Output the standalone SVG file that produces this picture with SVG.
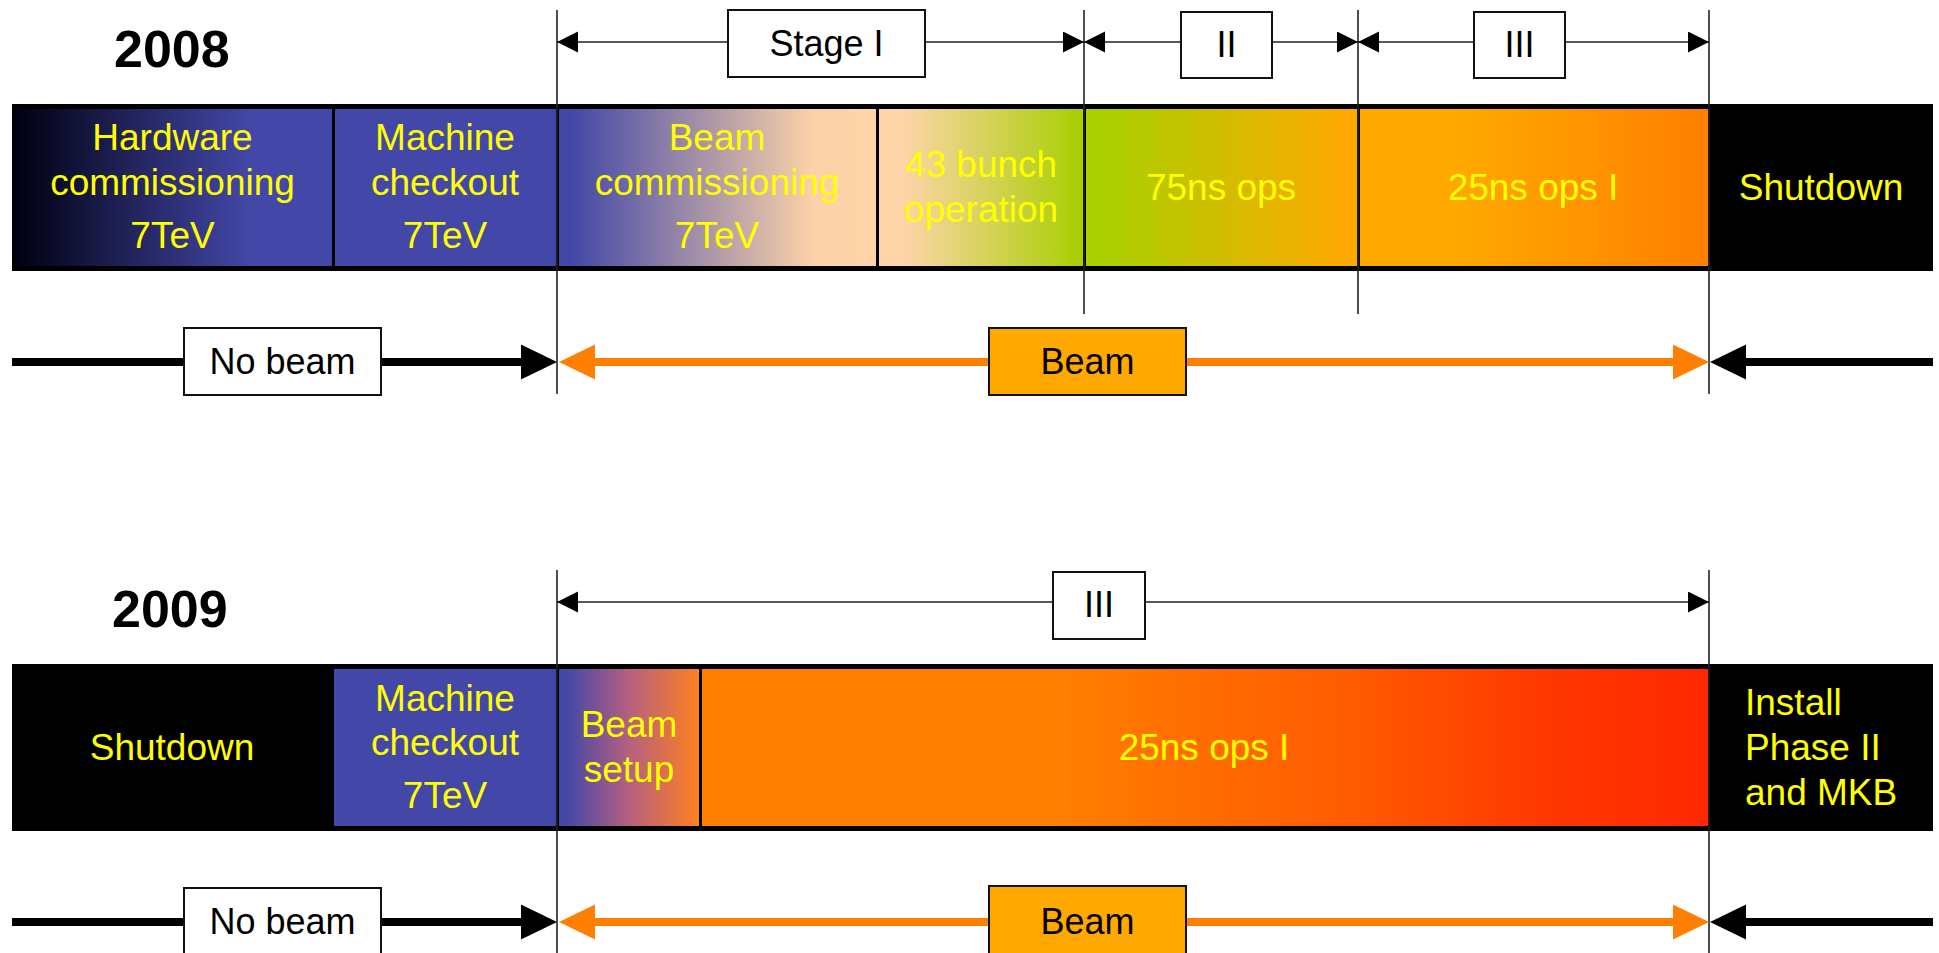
<svg xmlns="http://www.w3.org/2000/svg" width="1939" height="953" viewBox="0 0 1939 953">
<style>
text{font-family:"Liberation Sans",Arial,sans-serif}
.y{fill:#FFFF00;font-size:37px;text-anchor:middle}
.yl{fill:#FFFF00;font-size:37px}
.lb{fill:#000;font-size:36px;text-anchor:middle}
.yr{font-size:52px;font-weight:bold;fill:#000}
.box{fill:#fff;stroke:#111;stroke-width:2}
.bbox{fill:#FFA800;stroke:#111;stroke-width:2}
.vl{stroke:#222;stroke-width:1.6;fill:none}
.thin{stroke:#222;stroke-width:1.6;fill:none}
.blk{stroke:#000;stroke-width:8;fill:none}
.org{stroke:#FF7F00;stroke-width:8;fill:none}
</style>
<defs>
<marker id="ta" markerUnits="userSpaceOnUse" markerWidth="22" markerHeight="22" refX="21" refY="10.5" orient="auto-start-reverse" viewBox="0 0 22 22"><path d="M0,0 L21,10.5 L0,21 Z" fill="#000"/></marker>
<marker id="bk" markerUnits="userSpaceOnUse" markerWidth="37" markerHeight="36" refX="1" refY="17.5" orient="auto-start-reverse" viewBox="0 0 37 36"><path d="M0,0 L36,17.5 L0,35 Z" fill="#000"/></marker>
<marker id="or" markerUnits="userSpaceOnUse" markerWidth="37" markerHeight="36" refX="1" refY="17.5" orient="auto-start-reverse" viewBox="0 0 37 36"><path d="M0,0 L36,17.5 L0,35 Z" fill="#FF7F00"/></marker>
<linearGradient id="gHW" x1="0" x2="1" y1="0" y2="0"><stop offset="0" stop-color="#000010"/><stop offset="0.74" stop-color="#4347A7"/><stop offset="1" stop-color="#4347A7"/></linearGradient>
<linearGradient id="gBC" x1="0" x2="1" y1="0" y2="0"><stop offset="0.04" stop-color="#4347A7"/><stop offset="0.8" stop-color="#FBD2A8"/><stop offset="1" stop-color="#FDD5A8"/></linearGradient>
<linearGradient id="g43" x1="0" x2="1" y1="0" y2="0"><stop offset="0.12" stop-color="#FDD5A8"/><stop offset="1" stop-color="#A8CF00"/></linearGradient>
<linearGradient id="g75" x1="0" x2="1" y1="0" y2="0"><stop offset="0.08" stop-color="#AAD000"/><stop offset="0.97" stop-color="#FFA800"/></linearGradient>
<linearGradient id="g25a" x1="0" x2="1" y1="0" y2="0"><stop offset="0.3" stop-color="#FFA800"/><stop offset="1" stop-color="#FF7F00"/></linearGradient>
<linearGradient id="gBS" x1="0" x2="1" y1="0" y2="0"><stop offset="0.05" stop-color="#4347A7"/><stop offset="0.5" stop-color="#B5607F"/><stop offset="1" stop-color="#FF8020"/></linearGradient>
<linearGradient id="g25b" x1="0" x2="1" y1="0" y2="0"><stop offset="0.35" stop-color="#FF7F00"/><stop offset="0.65" stop-color="#FF5A00"/><stop offset="0.85" stop-color="#FF3600"/><stop offset="1" stop-color="#FF2800"/></linearGradient>
</defs>

<rect x="0" y="0" width="1939" height="953" fill="#fff"/>

<!-- 2008 -->
<g id="year2008"><text class="yr" x="114" y="67">2008</text></g>
<g id="bar2008">
<rect x="12" y="104" width="1921" height="167" fill="#000"/>
</g>
<g id="hw2008"><rect x="14" y="109" width="318" height="157" fill="url(#gHW)"/>
<text class="y" x="172.5" y="150">Hardware</text><text class="y" x="172.5" y="195">commissioning</text><text class="y" x="172.5" y="248">7TeV</text></g>
<g id="mc2008"><rect x="335" y="109" width="221" height="157" fill="#4347A7"/>
<text class="y" x="445" y="150">Machine</text><text class="y" x="445" y="195">checkout</text><text class="y" x="445" y="248">7TeV</text></g>
<g id="bc2008"><rect x="559" y="109" width="317" height="157" fill="url(#gBC)"/>
<text class="y" x="717" y="150">Beam</text><text class="y" x="717" y="195">commissioning</text><text class="y" x="717" y="248">7TeV</text></g>
<g id="b43"><rect x="879" y="109" width="204" height="157" fill="url(#g43)"/>
<text class="y" x="981" y="177">43 bunch</text><text class="y" x="981" y="222">operation</text></g>
<g id="o75"><rect x="1086" y="109" width="271" height="157" fill="url(#g75)"/>
<text class="y" x="1221" y="200">75ns ops</text></g>
<g id="o25a"><rect x="1360" y="109" width="348" height="157" fill="url(#g25a)"/>
<text class="y" x="1533" y="200">25ns ops I</text></g>
<g id="sd2008"><text class="y" x="1821" y="200">Shutdown</text></g>

<!-- 2009 -->
<g id="year2009"><text class="yr" x="112" y="627">2009</text></g>
<g id="bar2009"><rect x="12" y="664" width="1921" height="167" fill="#000"/></g>
<g id="sd2009a"><text class="y" x="172" y="760">Shutdown</text></g>
<g id="mc2009"><rect x="334" y="669" width="222" height="157" fill="#4347A7"/>
<text class="y" x="445" y="711">Machine</text><text class="y" x="445" y="755">checkout</text><text class="y" x="445" y="808">7TeV</text></g>
<g id="bs2009"><rect x="559" y="669" width="140" height="157" fill="url(#gBS)"/>
<text class="y" x="629" y="737">Beam</text><text class="y" x="629" y="782">setup</text></g>
<g id="o25b"><rect x="702" y="669" width="1006" height="157" fill="url(#g25b)"/>
<text class="y" x="1204" y="760">25ns ops I</text></g>
<g id="inst2009"><text class="yl" x="1745" y="715">Install</text><text class="yl" x="1745" y="760">Phase II</text><text class="yl" x="1745" y="805">and MKB</text></g>

<!-- connectors -->
<g id="connectors">
<line class="vl" x1="557" y1="10" x2="557" y2="394"/>
<line class="vl" x1="1084" y1="10" x2="1084" y2="314"/>
<line class="vl" x1="1358" y1="10" x2="1358" y2="314"/>
<line class="vl" x1="1709" y1="10" x2="1709" y2="394"/>
<line class="vl" x1="557" y1="570" x2="557" y2="953"/>
<line class="vl" x1="1709" y1="570" x2="1709" y2="953"/>

<line class="thin" x1="557" y1="42" x2="1084" y2="42" marker-start="url(#ta)" marker-end="url(#ta)"/>
<line class="thin" x1="1084" y1="42" x2="1358" y2="42" marker-start="url(#ta)" marker-end="url(#ta)"/>
<line class="thin" x1="1358" y1="42" x2="1709" y2="42" marker-start="url(#ta)" marker-end="url(#ta)"/>
<line class="thin" x1="557" y1="602" x2="1709" y2="602" marker-start="url(#ta)" marker-end="url(#ta)"/>

<line class="blk" x1="12" y1="362" x2="522" y2="362" marker-end="url(#bk)"/>
<line class="org" x1="594" y1="362" x2="1674" y2="362" marker-start="url(#or)" marker-end="url(#or)"/>
<line class="blk" x1="1933" y1="362" x2="1745" y2="362" marker-end="url(#bk)"/>

<line class="blk" x1="12" y1="922" x2="522" y2="922" marker-end="url(#bk)"/>
<line class="org" x1="594" y1="922" x2="1674" y2="922" marker-start="url(#or)" marker-end="url(#or)"/>
<line class="blk" x1="1933" y1="922" x2="1745" y2="922" marker-end="url(#bk)"/>
</g>

<!-- labels -->
<g id="stage1"><rect class="box" x="728" y="10" width="197" height="67"/><text class="lb" x="826.5" y="56">Stage I</text></g>
<g id="stage2"><rect class="box" x="1181" y="12" width="91" height="66"/><text class="lb" x="1226.5" y="57">II</text></g>
<g id="stage3"><rect class="box" x="1474" y="12" width="91" height="66"/><text class="lb" x="1519.5" y="57">III</text></g>
<g id="stage3b"><rect class="box" x="1053" y="572" width="92" height="67"/><text class="lb" x="1099" y="617">III</text></g>
<g id="nobeam2008"><rect class="box" x="184" y="328" width="197" height="67"/><text class="lb" x="282.5" y="374">No beam</text></g>
<g id="beam2008"><rect class="bbox" x="989" y="328" width="197" height="67"/><text class="lb" x="1087.5" y="374">Beam</text></g>
<g id="nobeam2009"><rect class="box" x="184" y="888" width="197" height="70"/><text class="lb" x="282.5" y="934">No beam</text></g>
<g id="beam2009"><rect class="bbox" x="989" y="886" width="197" height="72"/><text class="lb" x="1087.5" y="934">Beam</text></g>
</svg>
